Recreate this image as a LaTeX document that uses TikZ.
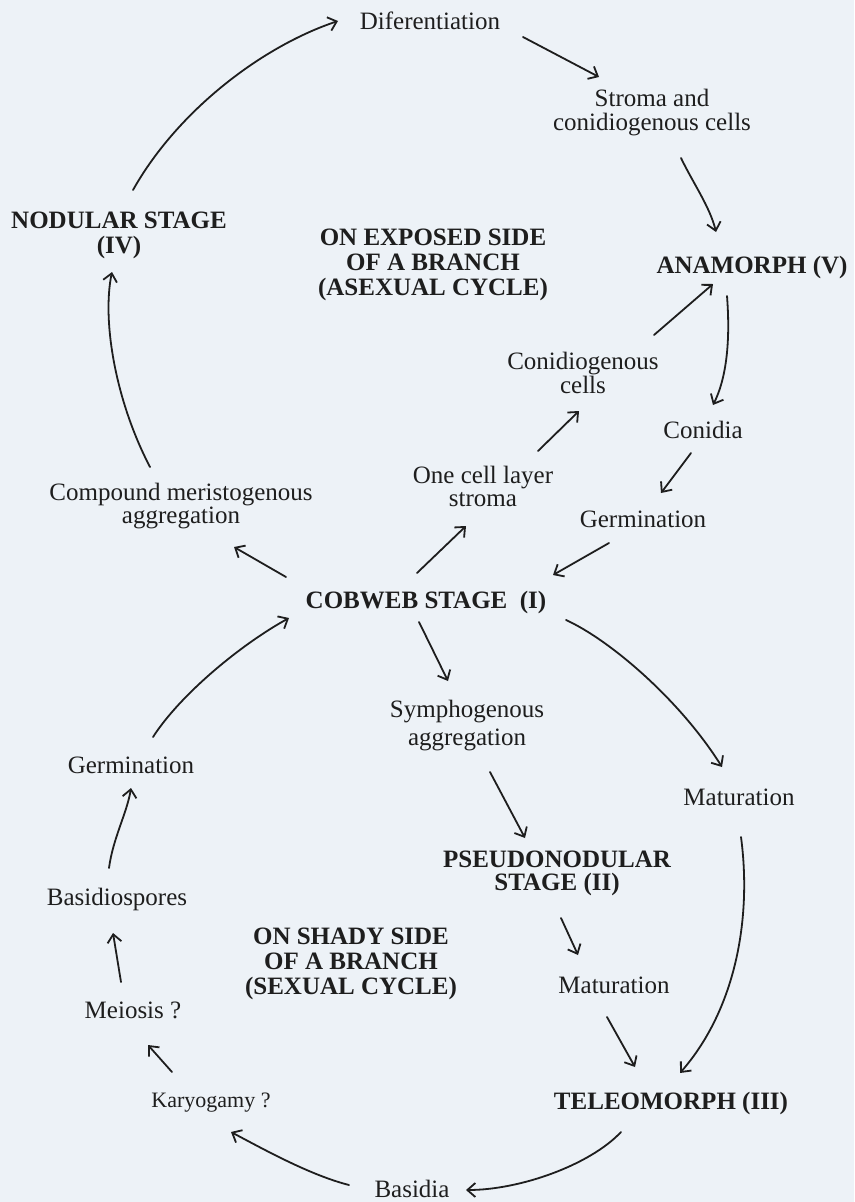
\documentclass[tikz,border=0pt]{standalone}
\usepackage{fontspec}
\setmainfont{Liberation Serif}
\usetikzlibrary{arrows.meta}
\definecolor{paper}{RGB}{237,242,247}
\definecolor{ink}{RGB}{30,30,30}
\tikzset{
  lbl/.style={anchor=base, align=center, inner sep=0pt, text=ink,
    font=\fontsize{25}{25}\selectfont},
  bold/.style={lbl, font=\fontsize{25}{25}\selectfont\bfseries},
  arr/.style={draw=ink, line width=1.8pt, line cap=round,
    -{Straight Barb[length=8pt,width=14pt,line width=1.8pt]}},
}
\begin{document}
\begin{tikzpicture}[x=1pt, y=-1pt]
\useasboundingbox[fill=paper] (0,0) rectangle (854,1202);

% nodes (positioned at the baseline of their last line)
\node[lbl] (dif) at (430,29) {Diferentiation};
\node[lbl, font=\fontsize{25}{24}\selectfont] (stroma) at (652,130) {Stroma and\\conidiogenous cells};
\node[bold] (nodular) at (119,253) {NODULAR STAGE\\(IV)};
\node[bold] (exposed) at (433,295) {ON EXPOSED SIDE\\OF A BRANCH\\(ASEXUAL CYCLE)};
\node[bold] (anamorph) at (752,273) {ANAMORPH (V)};
\node[lbl, font=\fontsize{25}{24}\selectfont] (conidiog) at (583,393) {Conidiogenous\\cells};
\node[lbl] (conidia) at (703,438) {Conidia};
\node[lbl, font=\fontsize{25}{23}\selectfont] (onecell) at (483,506) {One cell layer\\stroma};
\node[lbl, font=\fontsize{25}{21}\selectfont] (compound) at (181,523) {Compound meristogenous\\aggregation};
\node[lbl] (germR) at (643,527) {Germination};
\node[bold] (cobweb) at (426,608) {COBWEB STAGE\ \ (I)};
\node[lbl, font=\fontsize{25}{28}\selectfont] (symph) at (467,745) {Symphogenous\\aggregation};
\node[lbl] (germL) at (131,773) {Germination};
\node[lbl] (matR) at (739,805) {Maturation};
\node[bold, font=\fontsize{25}{23}\selectfont\bfseries] (pseudo) at (557,890) {PSEUDONODULAR\\STAGE (II)};
\node[lbl] (spores) at (117,905) {Basidiospores};
\node[bold] (shady) at (351,994) {ON SHADY SIDE\\OF A BRANCH\\(SEXUAL CYCLE)};
\node[lbl] (matM) at (614,993) {Maturation};
\node[lbl] (meiosis) at (133,1018) {Meiosis ?};
\node[lbl, font=\fontsize{22}{22}\selectfont] (karyo) at (211,1107) {Karyogamy ?};
\node[bold] (teleo) at (671,1109) {TELEOMORPH (III)};
\node[lbl] (basidia) at (412,1197) {Basidia};

% connectors
\draw[arr] ([shift={(14,-63)}]nodular.base) .. controls +(45,-80) and +(-75,25) .. ([shift={(-92,-8)}]dif.base);
\draw[arr] ([shift={(93,8)}]dif.base) -- ([shift={(-53,-53)}]stroma.base);
\draw[arr] ([shift={(29,28)}]stroma.base) .. controls +(12,25) and +(-6,-25) .. ([shift={(-36,-41)}]anamorph.base);
\draw[arr] ([shift={(71,-58)}]conidiog.base) -- ([shift={(-39,11)}]anamorph.base);
\draw[arr] ([shift={(-25,23)}]anamorph.base) .. controls +(3,39) and +(15,-30) .. ([shift={(10,-33)}]conidia.base);
\draw[arr] ([shift={(-12,15)}]conidia.base) -- ([shift={(18,-34)}]germR.base);
\draw[arr] ([shift={(55,-55)}]onecell.base) -- ([shift={(-4,18)}]conidiog.base);
\draw[arr] ([shift={(-9,-35)}]cobweb.base) -- ([shift={(-17,20)}]onecell.base);
\draw[arr] ([shift={(-34,16)}]germR.base) -- ([shift={(127,-33)}]cobweb.base);
\draw[arr] ([shift={(-140,-31)}]cobweb.base) -- ([shift={(53,24)}]compound.base);
\draw[arr] ([shift={(-31,-56)}]compound.base) .. controls +(-35,-67) and +(-10,48) .. ([shift={(-7,19)}]nodular.base);
\draw[arr] ([shift={(22,-36)}]germL.base) .. controls +(27,-42) and +(-49,27) .. ([shift={(-137,10)}]cobweb.base);
\draw[arr] ([shift={(-7,14)}]cobweb.base) -- ([shift={(-19,-64)}]symph.base);
\draw[arr] ([shift={(23,27)}]symph.base) -- ([shift={(-32,-52)}]pseudo.base);
\draw[arr] ([shift={(140,12)}]cobweb.base) .. controls +(44,20) and +(-42,-67) .. ([shift={(-17,-38)}]matR.base);
\draw[arr] ([shift={(2,32)}]matR.base) .. controls +(11,83) and +(55,-63) .. ([shift={(9,-36)}]teleo.base);
\draw[arr] ([shift={(-8,-37)}]spores.base) .. controls +(4,-30) and +(-4,25) .. ([shift={(0,15)}]germL.base);
\draw[arr] ([shift={(-12,-36)}]meiosis.base) -- ([shift={(-4,28)}]spores.base);
\draw[arr] ([shift={(-39,-35)}]karyo.base) -- ([shift={(15,27)}]meiosis.base);
\draw[arr] ([shift={(4,28)}]pseudo.base) -- ([shift={(-36,-38)}]matM.base);
\draw[arr] ([shift={(-7,24)}]matM.base) -- ([shift={(-36,-42)}]teleo.base);
\draw[arr] ([shift={(-50,23)}]teleo.base) .. controls +(-31,33) and +(54,0) .. ([shift={(54,-7)}]basidia.base);
\draw[arr] ([shift={(-63,-12)}]basidia.base) .. controls +(-39,-10) and +(34,18) .. ([shift={(20,25)}]karyo.base);
\end{tikzpicture}
\end{document}
